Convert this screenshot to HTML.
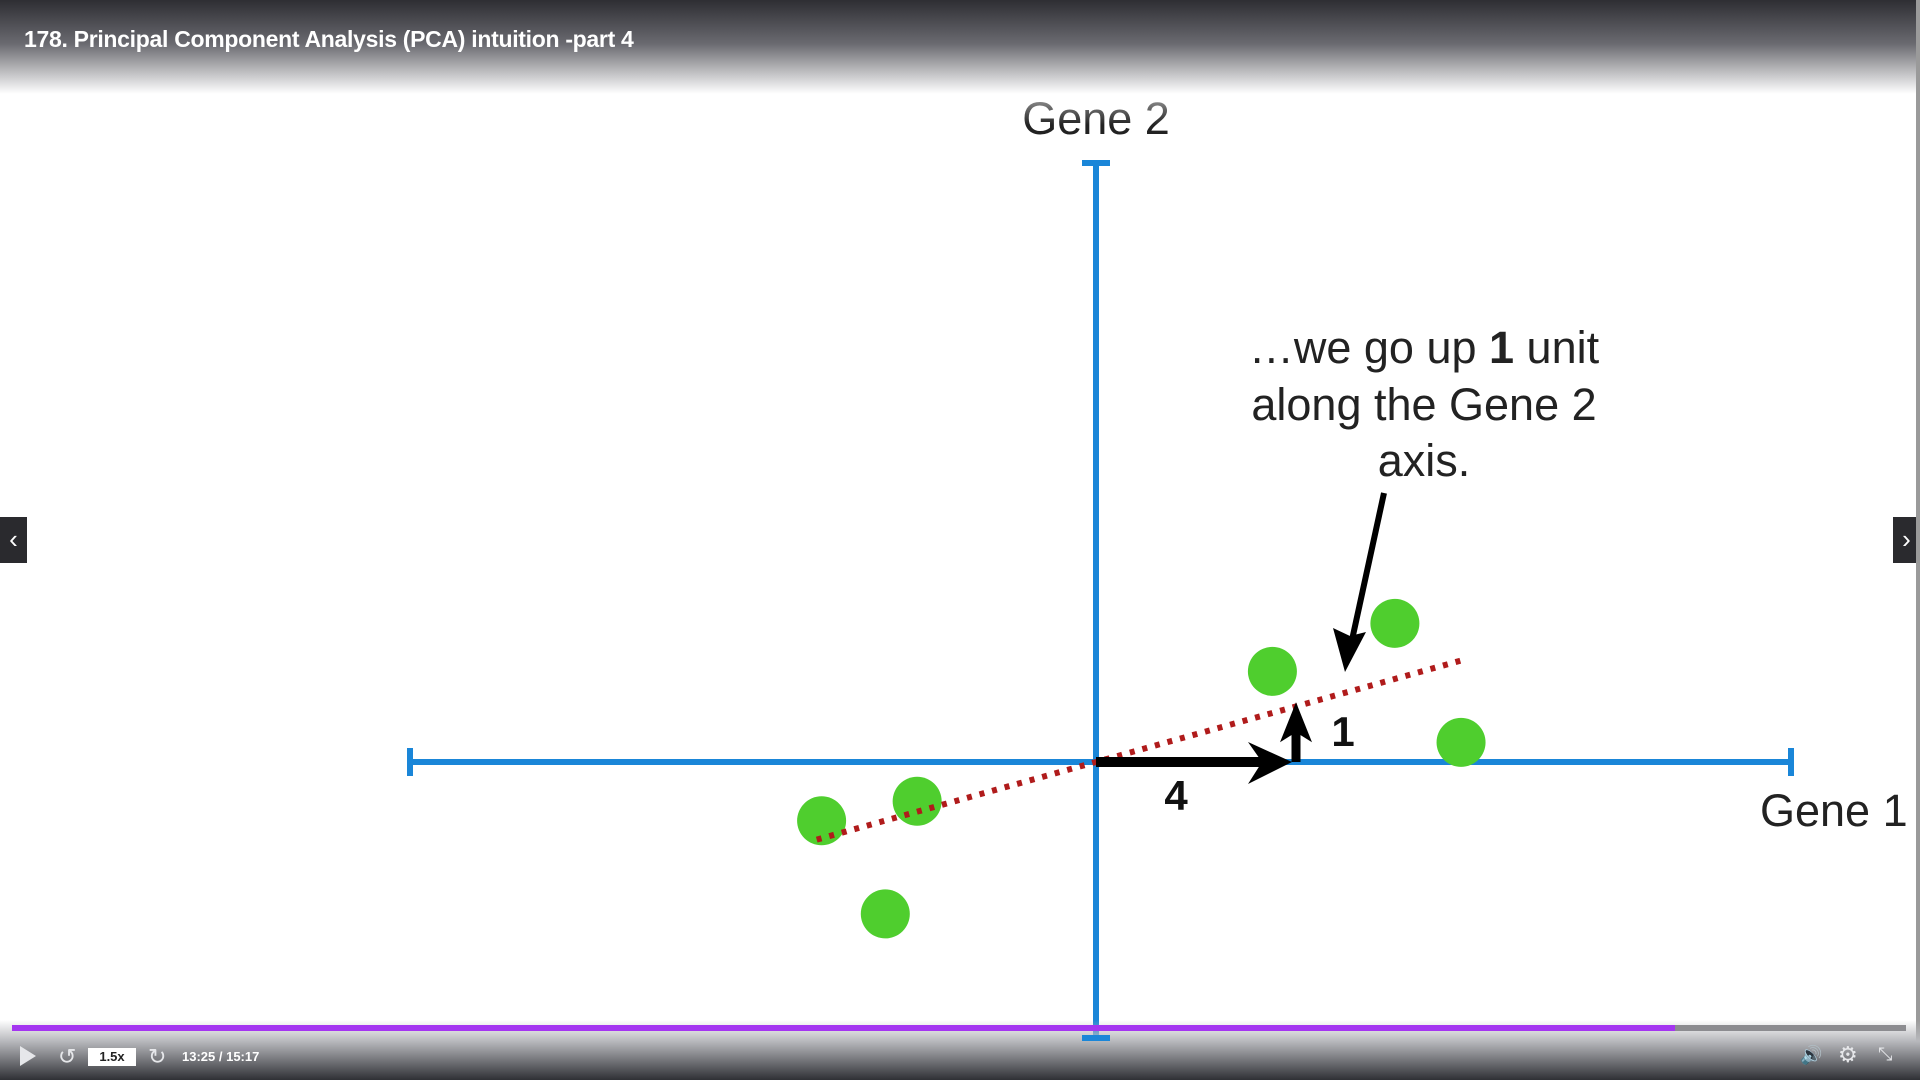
<!DOCTYPE html>
<html><head><meta charset="utf-8">
<style>
html,body{margin:0;padding:0;width:1920px;height:1080px;overflow:hidden;background:#fff;font-family:"Liberation Sans",sans-serif;}
#top{position:absolute;left:0;top:0;width:1920px;height:125px;background:linear-gradient(#2e2e33 0%,#6a6a70 35%,rgba(255,255,255,0.6) 75%,rgba(255,255,255,0) 100%);}
#title{position:absolute;left:24px;top:26px;color:#fff;font-size:23px;font-weight:bold;letter-spacing:-0.3px;}
#bottom{position:absolute;left:0;top:1020px;width:1920px;height:60px;background:linear-gradient(rgba(255,255,255,0) 0%,#b8b9bd 35%,#2f3035 100%);}
.nav{position:absolute;top:517px;width:27px;height:46px;background:#2a2a2e;color:#fff;font-size:26px;text-align:center;line-height:44px;}
</style></head><body>
<svg id="chart" width="1920" height="1080" style="position:absolute;left:0;top:0">
<g id="g"></g>
</svg>
<div id="top"><div id="title">178. Principal Component Analysis (PCA) intuition -part 4</div></div>
<div class="nav" style="left:0">‹</div>
<div class="nav" style="left:1893px">›</div>
<div style="position:absolute;left:1916px;top:0;width:4px;height:1080px;background:#9a9a9a"></div>
<div id="bottom"></div>
<div style="position:absolute;left:1082px;top:1035px;width:28px;height:6px;background:#1a86d8"></div>
<div style="position:absolute;left:12px;top:1025px;width:1894px;height:6px;background:#8c8c90"></div>
<div style="position:absolute;left:12px;top:1025px;width:1663px;height:6px;background:#a435f0"></div>
<div style="position:absolute;left:20px;top:1046px;width:0;height:0;border-left:16px solid #e6e7ea;border-top:10px solid transparent;border-bottom:10px solid transparent"></div>
<div style="position:absolute;left:58px;top:1044px;color:#e6e7ea;font-size:22px">↺</div>
<div style="position:absolute;left:88px;top:1048px;width:48px;height:18px;background:#fff;color:#222;font-size:13px;font-weight:bold;text-align:center;line-height:18px">1.5x</div>
<div style="position:absolute;left:148px;top:1044px;color:#e6e7ea;font-size:22px">↻</div>
<div style="position:absolute;left:182px;top:1049px;color:#fff;font-size:13px;font-weight:bold">13:25 / 15:17</div>
<div style="position:absolute;left:1800px;top:1045px;color:#e6e7ea;font-size:18px">🔊</div>
<div style="position:absolute;left:1838px;top:1042px;color:#e6e7ea;font-size:22px">⚙</div>
<div style="position:absolute;left:1878px;top:1044px;color:#e6e7ea;font-size:18px">⤡</div>
<script>
const pointX=[-5.6,-3.65,-4.3,3.6,6.1,7.45];
const pointY=[-1.2,-0.8,-3.1,1.85,2.83,0.4];
const lineX=[-5.7,7.5];
const slope=[0.278];
const arrowRun=[4];
const arrowRise=[1.22];
const OX=1096,OY=762,U=49;
const sx=v=>OX+v*U, sy=v=>OY-v*U;
const NS="http://www.w3.org/2000/svg",g=document.getElementById('g');
function mk(t,a){const e=document.createElementNS(NS,t);for(const k in a)e.setAttribute(k,a[k]);g.appendChild(e);return e;}
const blue="#1a86d8";
let e;
e=mk('line',{x1:sx(0),y1:163,x2:sx(0),y2:1038,stroke:blue,'stroke-width':6});


e=mk('line',{x1:410,y1:sy(0),x2:1791,y2:sy(0),stroke:blue,'stroke-width':6});


[[1082,163,1110,163],[410,748,410,776],[1791,748,1791,776]].forEach(c=>{
e=mk('line',{x1:c[0],y1:c[1],x2:c[2],y2:c[3],stroke:blue,'stroke-width':6});


});
e=mk('text',{x:1096,y:134,'text-anchor':'middle','font-size':45,fill:'#222','font-family':'Liberation Sans'});e.textContent='Gene 2';


e=mk('text',{x:1760,y:826,'font-size':45,fill:'#222','font-family':'Liberation Sans'});e.textContent='Gene 1';


for(let i=0;i<pointX.length;i++){
e=mk('circle',{cx:sx(pointX[i]),cy:sy(pointY[i]),r:24.5,fill:'#4fce2e'});


}
e=mk('line',{x1:sx(lineX[0]),y1:sy(lineX[0]*slope[0]),x2:sx(lineX[1]),y2:sy(lineX[1]*slope[0]),stroke:'#b01b1b','stroke-width':6,'stroke-dasharray':'5 8'});


const ax=sx(arrowRun[0]),ay=sy(0),vy=sy(arrowRise[0]);
e=mk('line',{x1:sx(0),y1:ay,x2:ax-20,y2:ay,stroke:'#000','stroke-width':10});


e=mk('polygon',{points:`${ax},${ay} ${ax-44},${ay-20} ${ax-30},${ay} ${ax-44},${ay+22}`,fill:'#000'});


e=mk('line',{x1:ax+4,y1:ay,x2:ax+4,y2:vy+20,stroke:'#000','stroke-width':9});


e=mk('polygon',{points:`${ax+4},${vy} ${ax-12},${vy+40} ${ax+4},${vy+30} ${ax+20},${vy+40}`,fill:'#000'});


e=mk('text',{x:(sx(0)+ax)/2-18,y:ay+48,'text-anchor':'middle','font-size':42,'font-weight':'bold',fill:'#111','font-family':'Liberation Sans'});e.textContent=arrowRun[0];


e=mk('text',{x:ax+51,y:(ay+vy)/2+14,'text-anchor':'middle','font-size':42,'font-weight':'bold',fill:'#111','font-family':'Liberation Sans'});e.textContent='1';


const lines=[['…we go up ',['1'],' unit'],['along the Gene 2'],['axis.']];
const ys=[363,420,476];
lines.forEach((l,i)=>{
e=mk('text',{x:1424,y:ys[i],'text-anchor':'middle','font-size':45,fill:'#222','font-family':'Liberation Sans'});


l.forEach(p=>{const t=document.createElementNS(NS,'tspan');if(Array.isArray(p)){t.textContent=p[0];t.setAttribute('font-weight','bold');}else t.textContent=p;e.appendChild(t);});
});
e=mk('line',{x1:1384,y1:493,x2:1352,y2:640,stroke:'#000','stroke-width':6});


e=mk('polygon',{points:'1345,672 1333,628 1350,636 1366,632',fill:'#000'});


</script>
</body></html>
